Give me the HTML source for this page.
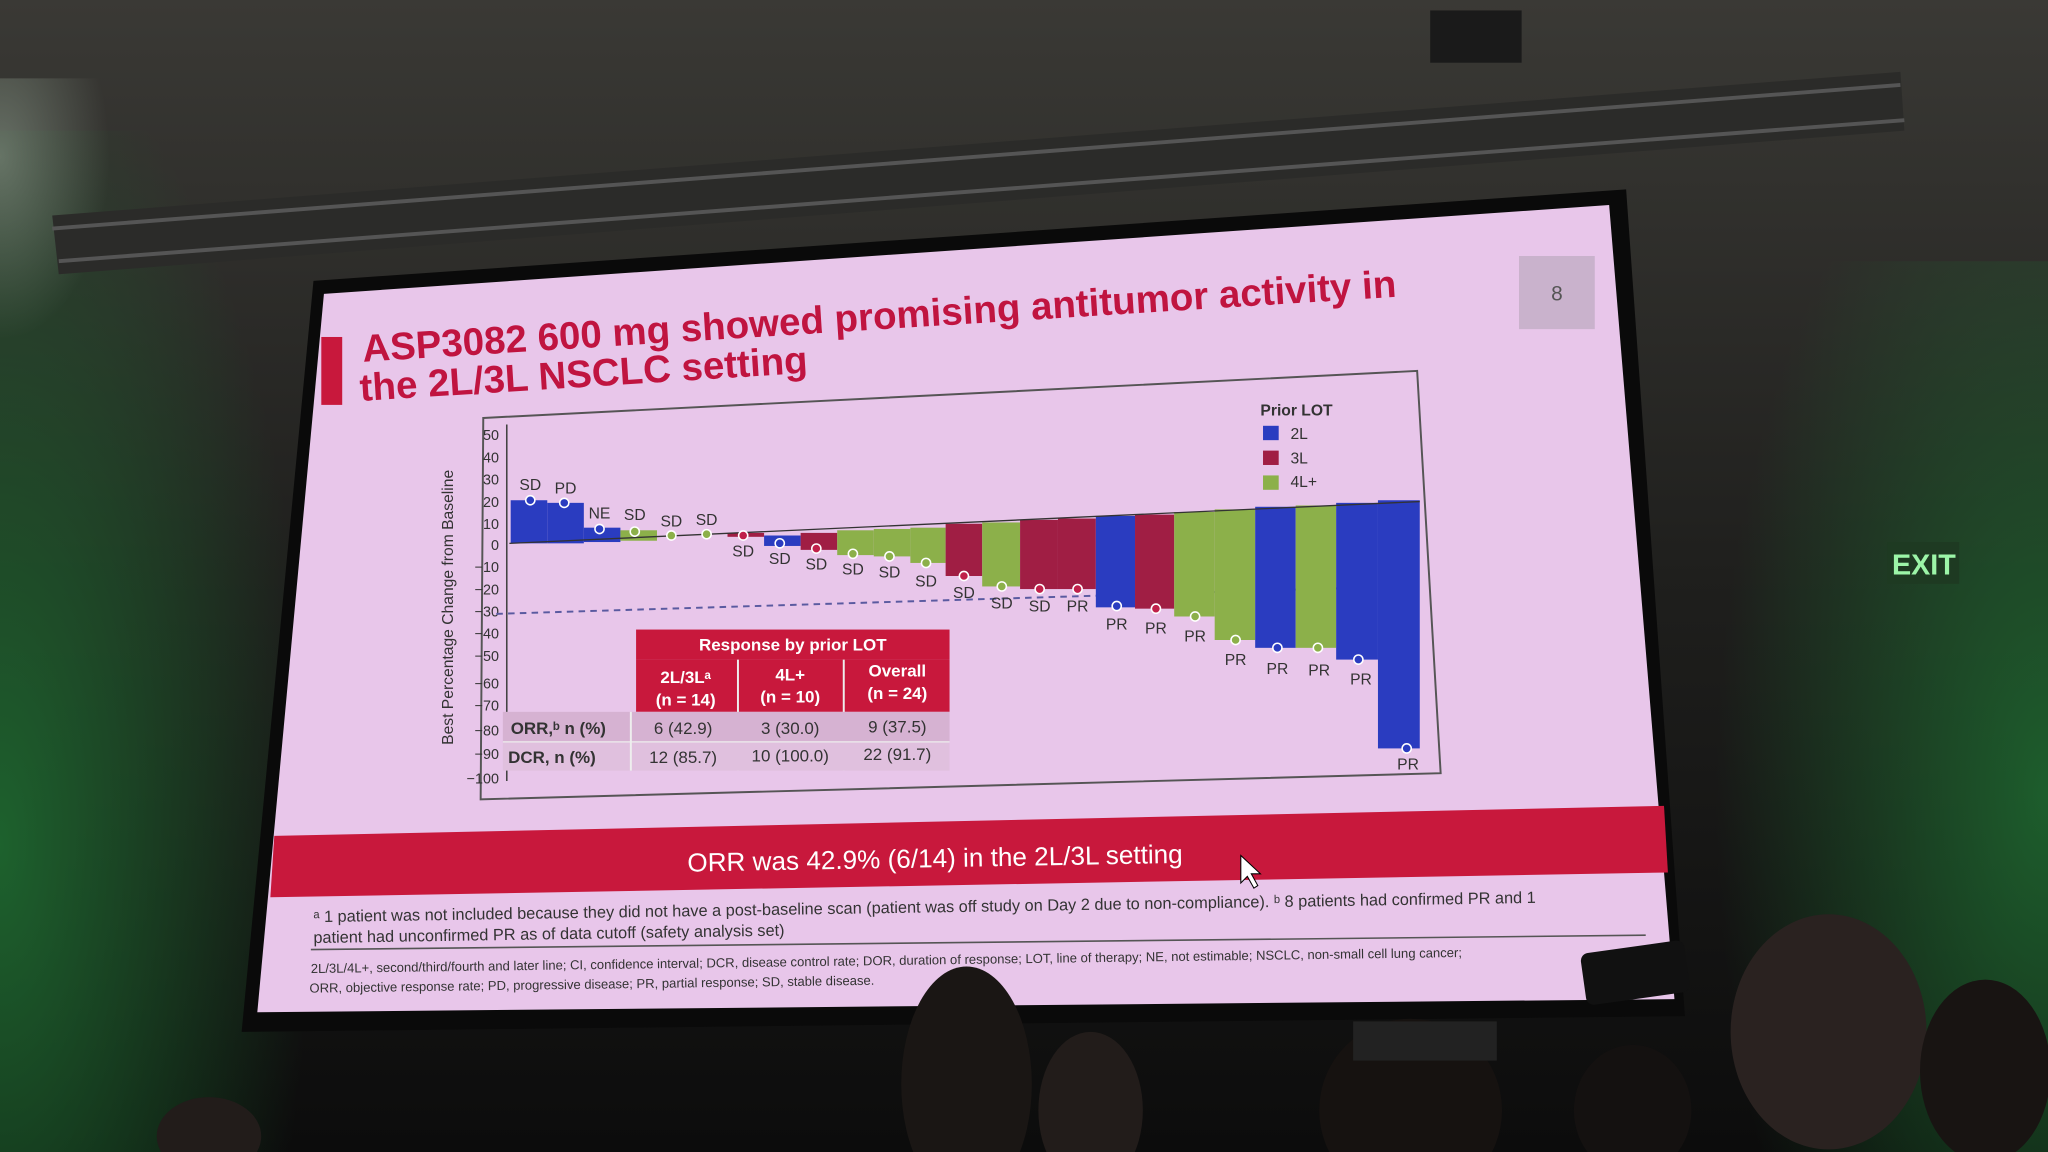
<!DOCTYPE html>
<html><head><meta charset="utf-8"><style>
html,body{margin:0;padding:0;background:#1a1a18;}
svg{display:block}
text{font-family:"Liberation Sans",sans-serif}
</style></head><body>
<svg width="2048" height="1152" viewBox="0 0 1568 882" xmlns="http://www.w3.org/2000/svg">
<defs>
<linearGradient id="bg" x1="0" y1="0" x2="0" y2="1"><stop offset="0" stop-color="#3a3935"/><stop offset="0.5" stop-color="#1f1f1d"/><stop offset="1" stop-color="#0c0c0c"/></linearGradient>
<radialGradient id="gl" cx="0" cy="0.7" r="0.8"><stop offset="0" stop-color="#1e6a30"/><stop offset="1" stop-color="#1e6a30" stop-opacity="0"/></radialGradient>
<radialGradient id="gr" cx="1" cy="0.6" r="0.8"><stop offset="0" stop-color="#1e6a30"/><stop offset="1" stop-color="#1e6a30" stop-opacity="0"/></radialGradient>
<radialGradient id="tl" cx="0" cy="0.3" r="0.7"><stop offset="0" stop-color="#8a9a8a"/><stop offset="1" stop-color="#8a9a8a" stop-opacity="0"/></radialGradient>
</defs>
<rect width="1568" height="882" fill="url(#bg)"/>
<rect x="0" y="100" width="300" height="782" fill="url(#gl)" opacity="0.9"/>
<rect x="1250" y="200" width="318" height="682" fill="url(#gr)" opacity="0.85"/>
<rect x="0" y="60" width="120" height="200" fill="url(#tl)" opacity="0.6"/>
<!-- truss -->
<polygon points="40,165 1455,55 1458,100 45,210" fill="#2b2b29"/>
<polyline points="40,175 1455,65" stroke="#555" stroke-width="3" fill="none"/>
<polyline points="45,200 1458,92" stroke="#555" stroke-width="3" fill="none"/>
<rect x="1095" y="8" width="70" height="40" fill="#1a1a1a"/>
<rect x="1445" y="415" width="55" height="32" fill="#1e3a22"/>
<text x="1473" y="440" font-size="22" fill="#9cf5a8" text-anchor="middle" font-weight="bold">EXIT</text>
<!-- screen black border -->
<polygon points="240,215 1245,145 1290,778 185,790" fill="#0a0a0a"/>
<!-- slide -->
<polygon points="248,225 1232,157 1282,765 197,775" fill="#e8c6ea"/>
<rect x="246" y="258" width="16" height="52" fill="#c8183c"/>
<text x="278" y="277" font-size="29.5" font-weight="bold" fill="#c01440" transform="rotate(-3.6 278 277)">ASP3082 600 mg showed promising antitumor activity in</text>
<text x="276" y="307" font-size="29.5" font-weight="bold" fill="#c01440" transform="rotate(-3.6 276 307)">the 2L/3L NSCLC setting</text>
<rect x="1163" y="196" width="58" height="56" fill="#c9b2cc"/>
<text x="1192" y="230" font-size="16" fill="#555" text-anchor="middle">8</text>
<!-- chart frame -->
<polygon points="370,320 1085,284 1103,592 368,612" fill="none" stroke="#555" stroke-width="1.5"/>
<!-- y axis -->
<line x1="388" y1="325" x2="388" y2="598" stroke="#444" stroke-width="1.2"/>
<g font-size="11" fill="#333" text-anchor="end">
<text x="382" y="337">50</text><text x="382" y="354">40</text><text x="382" y="371">30</text><text x="382" y="388">20</text><text x="382" y="405">10</text><text x="382" y="421">0</text><text x="382" y="438">−10</text><text x="382" y="455">−20</text><text x="382" y="472">−30</text><text x="382" y="489">−40</text><text x="382" y="506">−50</text><text x="382" y="527">−60</text><text x="382" y="544">−70</text><text x="382" y="563">−80</text><text x="382" y="581">−90</text><text x="382" y="600">−100</text>
</g>
<text x="347" y="465" font-size="12" fill="#333" text-anchor="middle" transform="rotate(-90 347 465)">Best Percentage Change from Baseline</text>
<line x1="380" y1="470" x2="1040" y2="450" stroke="#5a5aa0" stroke-width="1.5" stroke-dasharray="5,4"/>
<g>
<rect x="391" y="383" width="28" height="33" fill="#2a3cc0"/>
<rect x="419" y="385" width="28" height="31" fill="#2a3cc0"/>
<rect x="447" y="404" width="28" height="11" fill="#2a3cc0"/>
<rect x="475" y="406" width="28" height="8" fill="#8cb04a"/>
<rect x="557" y="408" width="28" height="3" fill="#a01e44"/>
<rect x="585" y="410" width="28" height="8" fill="#2a3cc0"/>
<rect x="613" y="408" width="28" height="13" fill="#a01e44"/>
<rect x="641" y="406" width="28" height="19" fill="#8cb04a"/>
<rect x="669" y="405" width="28" height="21" fill="#8cb04a"/>
<rect x="697" y="404" width="27" height="27" fill="#8cb04a"/>
<rect x="724" y="401" width="28" height="40" fill="#a01e44"/>
<rect x="752" y="400" width="29" height="49" fill="#8cb04a"/>
<rect x="781" y="398" width="29" height="53" fill="#a01e44"/>
<rect x="810" y="397" width="29" height="54" fill="#a01e44"/>
<rect x="839" y="395" width="30" height="70" fill="#2a3cc0"/>
<rect x="869" y="394" width="30" height="72" fill="#a01e44"/>
<rect x="899" y="392" width="31" height="80" fill="#8cb04a"/>
<rect x="930" y="390" width="31" height="100" fill="#8cb04a"/>
<rect x="961" y="388" width="31" height="108" fill="#2a3cc0"/>
<rect x="992" y="387" width="31" height="109" fill="#8cb04a"/>
<rect x="1023" y="385" width="32" height="120" fill="#2a3cc0"/>
<rect x="1055" y="383" width="32" height="190" fill="#2a3cc0"/>
</g>
<line x1="390" y1="416" x2="1087" y2="384" stroke="#333" stroke-width="1"/>
<g stroke="#fff" stroke-width="1.2">
<circle cx="406" cy="383" r="3.5" fill="#2a3cc0"/><circle cx="432" cy="385" r="3.5" fill="#2a3cc0"/><circle cx="459" cy="405" r="3.5" fill="#2a3cc0"/><circle cx="486" cy="407" r="3.5" fill="#8cb04a"/><circle cx="514" cy="410" r="3.5" fill="#8cb04a"/><circle cx="541" cy="409" r="3.5" fill="#8cb04a"/><circle cx="569" cy="410" r="3.5" fill="#c0204a"/><circle cx="597" cy="416" r="3.5" fill="#2a3cc0"/><circle cx="625" cy="420" r="3.5" fill="#c0204a"/><circle cx="653" cy="424" r="3.5" fill="#8cb04a"/><circle cx="681" cy="426" r="3.5" fill="#8cb04a"/><circle cx="709" cy="431" r="3.5" fill="#8cb04a"/><circle cx="738" cy="441" r="3.5" fill="#c0204a"/><circle cx="767" cy="449" r="3.5" fill="#8cb04a"/><circle cx="796" cy="451" r="3.5" fill="#c0204a"/><circle cx="825" cy="451" r="3.5" fill="#c0204a"/><circle cx="855" cy="464" r="3.5" fill="#2a3cc0"/><circle cx="885" cy="466" r="3.5" fill="#c0204a"/><circle cx="915" cy="472" r="3.5" fill="#8cb04a"/><circle cx="946" cy="490" r="3.5" fill="#8cb04a"/><circle cx="978" cy="496" r="3.5" fill="#2a3cc0"/><circle cx="1009" cy="496" r="3.5" fill="#8cb04a"/><circle cx="1040" cy="505" r="3.5" fill="#2a3cc0"/><circle cx="1077" cy="573" r="3.5" fill="#2a3cc0"/>
</g>
<g font-size="12" fill="#333" text-anchor="middle">
<text x="406" y="375">SD</text><text x="433" y="378">PD</text><text x="459" y="397">NE</text><text x="486" y="398">SD</text><text x="514" y="403">SD</text><text x="541" y="402">SD</text>
<text x="569" y="426">SD</text><text x="597" y="432">SD</text><text x="625" y="436">SD</text><text x="653" y="440">SD</text><text x="681" y="442">SD</text><text x="709" y="449">SD</text><text x="738" y="458">SD</text><text x="767" y="466">SD</text><text x="796" y="468">SD</text><text x="825" y="468">PR</text><text x="855" y="482">PR</text><text x="885" y="485">PR</text><text x="915" y="491">PR</text><text x="946" y="509">PR</text><text x="978" y="516">PR</text><text x="1010" y="517">PR</text><text x="1042" y="524">PR</text><text x="1078" y="589">PR</text>
</g>
<text x="965" y="318" font-size="12" font-weight="bold" fill="#333">Prior LOT</text>
<rect x="967" y="326" width="12" height="11" fill="#2a3cc0"/><text x="988" y="336" font-size="12" fill="#333">2L</text>
<rect x="967" y="345" width="12" height="11" fill="#a01e44"/><text x="988" y="355" font-size="12" fill="#333">3L</text>
<rect x="967" y="364" width="12" height="11" fill="#8cb04a"/><text x="988" y="373" font-size="12" fill="#333">4L+</text>
<rect x="487" y="482" width="240" height="23" fill="#c8183c"/>
<text x="607" y="498" font-size="13" font-weight="bold" fill="#fff" text-anchor="middle">Response by prior LOT</text>
<rect x="487" y="505" width="240" height="40" fill="#c8183c"/>
<line x1="565" y1="505" x2="565" y2="590" stroke="#eee" stroke-width="1.5"/>
<line x1="646" y1="505" x2="646" y2="590" stroke="#eee" stroke-width="1.5"/>
<g font-size="13" font-weight="bold" fill="#fff" text-anchor="middle">
<text x="525" y="523">2L/3Lᵃ</text><text x="525" y="540">(n = 14)</text>
<text x="605" y="521">4L+</text><text x="605" y="538">(n = 10)</text>
<text x="687" y="518">Overall</text><text x="687" y="535">(n = 24)</text>
</g>
<rect x="385" y="545" width="342" height="23" fill="#d6b2d2"/>
<rect x="385" y="568" width="342" height="22" fill="#e0c0de"/>
<line x1="385" y1="568" x2="727" y2="568" stroke="#eee"/>
<line x1="483" y1="545" x2="483" y2="590" stroke="#eee" stroke-width="1.5"/>
<g font-size="13" fill="#333">
<text x="391" y="562" font-weight="bold">ORR,ᵇ n (%)</text><text x="389" y="584" font-weight="bold">DCR, n (%)</text>
<text x="523" y="562" text-anchor="middle">6 (42.9)</text><text x="605" y="562" text-anchor="middle">3 (30.0)</text><text x="687" y="561" text-anchor="middle">9 (37.5)</text>
<text x="523" y="584" text-anchor="middle">12 (85.7)</text><text x="605" y="583" text-anchor="middle">10 (100.0)</text><text x="687" y="582" text-anchor="middle">22 (91.7)</text>
</g>
<polygon points="210,640 1274,617 1277,668 207,687" fill="#c8183c"/>
<text x="716" y="664" font-size="20" fill="#fff" text-anchor="middle" transform="rotate(-1 716 664)">ORR was 42.9% (6/14) in the 2L/3L setting</text>
<polygon points="950,655 950,676 955,671 960,680 963,678 958,669 965,669" fill="#fff" stroke="#000" stroke-width="0.8"/>
<g font-size="12.5" fill="#333">
<text x="240" y="706" transform="rotate(-0.9 240 706)">ᵃ 1 patient was not included because they did not have a post-baseline scan (patient was off study on Day 2 due to non-compliance). ᵇ 8 patients had confirmed PR and 1</text>
<text x="240" y="722" transform="rotate(-0.9 240 722)">patient had unconfirmed PR as of data cutoff (safety analysis set)</text>
</g>
<line x1="238" y1="727" x2="1260" y2="716" stroke="#555" stroke-width="1.2"/>
<g font-size="10" fill="#333">
<text x="238" y="745" transform="rotate(-0.8 238 745)">2L/3L/4L+, second/third/fourth and later line; CI, confidence interval; DCR, disease control rate; DOR, duration of response; LOT, line of therapy; NE, not estimable; NSCLC, non-small cell lung cancer;</text>
<text x="237" y="760" transform="rotate(-0.8 237 760)">ORR, objective response rate; PD, progressive disease; PR, partial response; SD, stable disease.</text>
</g>
<ellipse cx="740" cy="830" rx="50" ry="90" fill="#1a1614"/>
<ellipse cx="835" cy="850" rx="40" ry="60" fill="#221c1a"/>
<ellipse cx="1400" cy="790" rx="75" ry="90" fill="#2a2220"/>
<ellipse cx="1080" cy="850" rx="70" ry="70" fill="#161210"/>
<ellipse cx="1250" cy="850" rx="45" ry="50" fill="#141110"/>
<ellipse cx="1520" cy="820" rx="50" ry="70" fill="#181412"/>
<ellipse cx="160" cy="870" rx="40" ry="30" fill="#221c1a"/>
<rect x="1212" y="725" width="80" height="40" rx="6" fill="#111" transform="rotate(-8 1250 745)"/>
<rect x="1036" y="782" width="110" height="30" fill="#222"/>
</svg>
</body></html>
